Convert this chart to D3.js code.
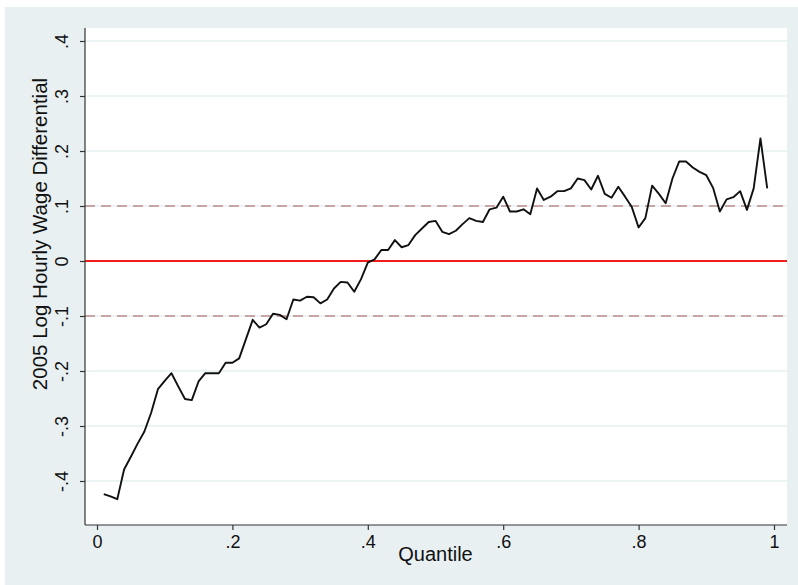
<!DOCTYPE html>
<html><head><meta charset="utf-8">
<script src="https://cdn.jsdelivr.net/npm/d3@7"></script>
<style>body{margin:0;background:#fff;} svg{display:block;font-family:"Liberation Sans",Arial,sans-serif;}</style>
</head><body>
<svg id="c" width="798" height="585"></svg>
<script>
const quantiles = d3.range(1, 100).map(i => i / 100);
const differential = [
 -0.424,-0.428,-0.433,-0.379,-0.356,-0.332,-0.310,-0.276,-0.233,-0.218,
 -0.204,-0.228,-0.251,-0.253,-0.219,-0.204,-0.204,-0.204,-0.185,-0.185,
 -0.177,-0.142,-0.107,-0.121,-0.115,-0.096,-0.098,-0.106,-0.070,-0.072,
 -0.065,-0.066,-0.077,-0.070,-0.050,-0.038,-0.039,-0.056,-0.033,-0.003,
  0.003,0.020,0.020,0.038,0.025,0.029,0.047,0.059,0.071,0.073,
  0.053,0.049,0.055,0.067,0.078,0.073,0.071,0.094,0.097,0.117,
  0.090,0.090,0.094,0.085,0.132,0.111,0.117,0.127,0.127,0.132,
  0.150,0.147,0.130,0.155,0.122,0.115,0.135,0.117,0.098,0.061,
  0.078,0.137,0.122,0.105,0.150,0.181,0.181,0.170,0.162,0.156,
  0.133,0.090,0.112,0.116,0.127,0.093,0.132,0.223,0.132
];
const xTicks = [0, 0.2, 0.4, 0.6, 0.8, 1];
const xTickLabels = ["0", ".2", ".4", ".6", ".8", "1"];
const yTicks = [-0.4, -0.3, -0.2, -0.1, 0, 0.1, 0.2, 0.3, 0.4];
const yTickLabels = ["-.4", "-.3", "-.2", "-.1", "0", ".1", ".2", ".3", ".4"];
const refLines = [-0.1, 0.1];
const zeroLine = 0;

(function(){
const svg = d3.select("#c");
const bg = "#e8f0f2";
svg.append("rect").attr("x",5).attr("y",7).attr("width",793).attr("height",578).attr("fill",bg);

const x = d3.scaleLinear().domain([0,1]).range([97,774]);
const y = d3.scaleLinear().domain([0,0.1]).range([261,206]);
const pL = 85, pR = 787, pT = 28, pB = 525;

svg.append("rect").attr("x",pL).attr("y",pT).attr("width",pR-pL).attr("height",pB-pT).attr("fill","#fff");

svg.append("g").selectAll("line").data(yTicks).join("line")
  .attr("x1",pL).attr("x2",pR).attr("y1",d=>y(d)).attr("y2",d=>y(d))
  .attr("stroke","#e6eff2").attr("stroke-width",1.5);

svg.append("g").selectAll("line").data(refLines).join("line")
  .attr("x1",pL).attr("x2",pR).attr("y1",d=>y(d)).attr("y2",d=>y(d))
  .attr("stroke","#c6a6a2").attr("stroke-width",1.8).attr("stroke-dasharray","10,6");
svg.append("line").attr("x1",pL).attr("x2",pR).attr("y1",y(zeroLine)).attr("y2",y(zeroLine))
  .attr("stroke","#f21c1c").attr("stroke-width",1.8);

const line = d3.line().x((d,i)=>x(quantiles[i])).y(d=>y(d));
svg.append("path").datum(differential).attr("d",line)
  .attr("fill","none").attr("stroke","#111").attr("stroke-width",1.9).attr("stroke-linejoin","round");

const xAxis = d3.axisBottom(x).tickValues(xTicks).tickFormat((d,i)=>xTickLabels[i]).tickSize(5).tickPadding(5);
const gx = svg.append("g").attr("transform",`translate(0,${pB})`).call(xAxis);
gx.select(".domain").attr("d",`M${pL},0H${pR}`).attr("stroke","#333").attr("stroke-width",1.2);
gx.selectAll(".tick line").attr("stroke","#333").attr("stroke-width",1.2);
gx.selectAll(".tick text").attr("font-size",18).attr("fill","#111").attr("font-family","Liberation Sans, Arial, sans-serif");

const yAxis = d3.axisLeft(y).tickValues(yTicks).tickFormat((d,i)=>yTickLabels[i]).tickSize(5).tickPadding(6);
const gy = svg.append("g").attr("transform",`translate(${pL},0)`).call(yAxis);
gy.select(".domain").attr("d",`M0,${pT}V${pB}`).attr("stroke","#333").attr("stroke-width",1.2);
gy.selectAll(".tick line").attr("stroke","#333").attr("stroke-width",1.2);
gy.selectAll(".tick text").attr("font-size",18).attr("fill","#111")
  .attr("font-family","Liberation Sans, Arial, sans-serif")
  .attr("x",0).attr("dy",0).attr("text-anchor","middle")
  .attr("transform","translate(-17,0) rotate(-90)");

svg.append("text").attr("x",(x(0)+x(1))/2).attr("y",561).attr("text-anchor","middle")
  .attr("font-size",20).attr("fill","#111").text("Quantile");
svg.append("text").attr("transform","translate(47,234) rotate(-90)").attr("text-anchor","middle")
  .attr("font-size",20.5).attr("fill","#111").text("2005 Log Hourly Wage Differential");
})();
</script>
</body></html>
